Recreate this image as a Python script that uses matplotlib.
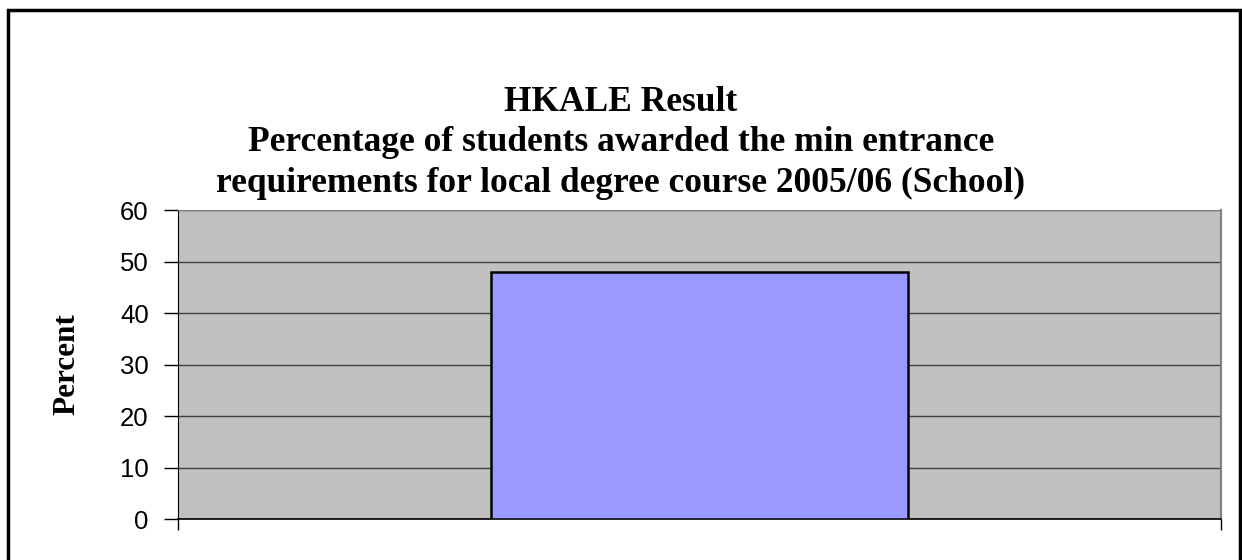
import matplotlib.pyplot as plt
from matplotlib.patches import Rectangle

categories = ["School"]
values = [48]
y_ticks = [0, 10, 20, 30, 40, 50, 60]
title = ("HKALE Result\n"
         "Percentage of students awarded the min entrance\n"
         "requirements for local degree course 2005/06 (School)")

fig = plt.figure(figsize=(12.42, 5.6), dpi=100)
ax = fig.add_axes([0.1433, 0.0732, 0.8398, 0.5518])

ax.set_facecolor("#C0C0C0")
ax.bar(range(len(categories)), values, width=0.4, color="#9999FF",
       edgecolor="black", linewidth=1.8, zorder=3)

ax.set_xlim(-0.5, len(categories) - 0.5)
ax.set_ylim(0, 60)
ax.set_yticks(y_ticks)
ax.set_yticklabels([str(t) for t in y_ticks], fontsize=18.5, family="Liberation Sans")
ax.set_xticks([-0.5, len(categories) - 0.5])
ax.set_xticklabels([])
ax.yaxis.grid(True, color="#404040", linewidth=1.0, zorder=1)
ax.set_axisbelow(True)

ax.tick_params(axis="y", length=10, width=1, color="black", pad=11)
ax.tick_params(axis="x", length=8, width=1, color="black")

ax.spines["left"].set_color("black")
ax.spines["bottom"].set_color("black")
ax.spines["bottom"].set_linewidth(1.2)
ax.spines["top"].set_color("#808080")
ax.spines["right"].set_color("#808080")
ax.spines["right"].set_linewidth(1.5)

ax.set_ylabel("Percent", fontsize=22.5, fontweight="bold",
              family="Liberation Serif", labelpad=28)

fig.text(0.5, 0.745, title, ha="center", va="center", fontsize=25.5,
         fontweight="bold", family="Liberation Serif", linespacing=1.3)

border = Rectangle((8 / 1242, -0.05), (1240 - 8) / 1242, 1.05 - 10 / 560,
                   transform=fig.transFigure, fill=False, edgecolor="black",
                   linewidth=2.5, clip_on=False)
fig.patches.append(border)

fig.savefig("out.png", dpi=100)
